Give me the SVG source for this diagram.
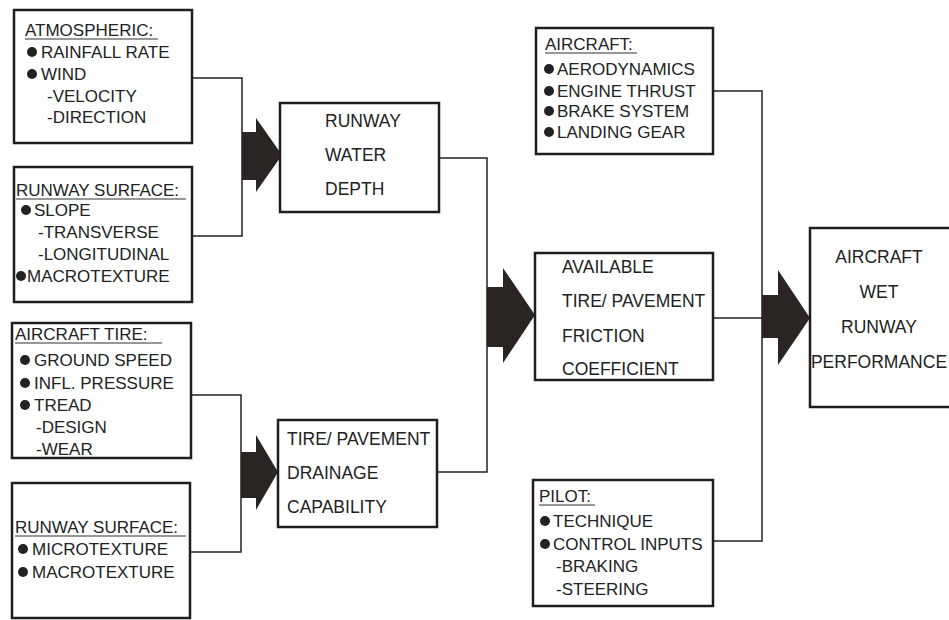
<svg xmlns="http://www.w3.org/2000/svg" width="949" height="620" viewBox="0 0 949 620">
<style>
.box{fill:#fff;stroke:#1e1e1e;stroke-width:2.5}
.t{font-family:"Liberation Sans",Arial,sans-serif;font-size:17px;fill:#222}
.c{font-family:"Liberation Sans",Arial,sans-serif;font-size:17.5px;fill:#222}
.u{stroke:#333;stroke-width:1.2}
.b{fill:#222}
.ln{fill:none;stroke:#222;stroke-width:1.5}
.ar{fill:#2a2422}
</style>
<rect width="949" height="620" fill="#fff"/>
<g id="connectors">
<polyline class="ln" points="192,78 242,78 242,236 192,236"/>
<polyline class="ln" points="191,395 241,395 241,552 190,552"/>
<polyline class="ln" points="439,158 487,158 487,472 437,472"/>
<polyline class="ln" points="713,91 762,91 762,541 713,541"/>
<line class="ln" x1="713" y1="318" x2="762" y2="318"/>
<polygon class="ar" points="242,132 256,132 256,118 282,155 256,192 256,180 242,180"/>
<polygon class="ar" points="241,452 256,452 256,435 278,472 256,510 256,498 241,498"/>
<polygon class="ar" points="487,287 503,287 503,268 535,315 503,363 503,347 487,347"/>
<polygon class="ar" points="762,295 778,295 778,270 810,318 778,365 778,338 762,338"/>
</g>
<g id="atmospheric">
<rect class="box" x="14" y="10" width="178" height="133"/>
<text class="t" x="25" y="36">ATMOSPHERIC:</text>
<line class="u" x1="25" y1="39" x2="158" y2="39"/>
<circle class="b" cx="32" cy="52" r="5"/><text class="t" x="41" y="58">RAINFALL RATE</text>
<circle class="b" cx="32" cy="74" r="5"/><text class="t" x="41" y="80">WIND</text>
<text class="t" x="47" y="102">-VELOCITY</text>
<text class="t" x="47" y="123">-DIRECTION</text>
</g>
<g id="runway-surface-1">
<rect class="box" x="14" y="167" width="178" height="135"/>
<text class="t" x="16" y="196">RUNWAY SURFACE:</text>
<line class="u" x1="16" y1="199" x2="186" y2="199"/>
<circle class="b" cx="26" cy="210" r="5"/><text class="t" x="34" y="216">SLOPE</text>
<text class="t" x="38" y="238">-TRANSVERSE</text>
<text class="t" x="38" y="260">-LONGITUDINAL</text>
<circle class="b" cx="21" cy="276" r="5"/><text class="t" x="27" y="282">MACROTEXTURE</text>
</g>
<g id="aircraft-tire">
<rect class="box" x="12" y="323" width="179" height="135"/>
<text class="t" x="15" y="340">AIRCRAFT TIRE:</text>
<line class="u" x1="15" y1="343" x2="162" y2="343"/>
<circle class="b" cx="25" cy="360" r="5"/><text class="t" x="34" y="366">GROUND SPEED</text>
<circle class="b" cx="25" cy="383" r="5"/><text class="t" x="34" y="389">INFL. PRESSURE</text>
<circle class="b" cx="25" cy="405" r="5"/><text class="t" x="34" y="411">TREAD</text>
<text class="t" x="36" y="433">-DESIGN</text>
<text class="t" x="36" y="455">-WEAR</text>
</g>
<g id="runway-surface-2">
<rect class="box" x="12" y="483" width="178" height="135"/>
<text class="t" x="15" y="533">RUNWAY SURFACE:</text>
<line class="u" x1="15" y1="536" x2="186" y2="536"/>
<circle class="b" cx="23" cy="549" r="5"/><text class="t" x="32" y="555">MICROTEXTURE</text>
<circle class="b" cx="23" cy="572" r="5"/><text class="t" x="32" y="578">MACROTEXTURE</text>
</g>
<g id="runway-water-depth">
<rect class="box" x="280" y="103" width="159" height="109"/>
<text class="c" x="325" y="127">RUNWAY</text>
<text class="c" x="325" y="161">WATER</text>
<text class="c" x="325" y="195">DEPTH</text>
</g>
<g id="drainage-capability">
<rect class="box" x="278" y="420" width="159" height="107"/>
<text class="c" x="287" y="445">TIRE/ PAVEMENT</text>
<text class="c" x="287" y="479">DRAINAGE</text>
<text class="c" x="287" y="513">CAPABILITY</text>
</g>
<g id="aircraft">
<rect class="box" x="536" y="28" width="177" height="126"/>
<text class="t" x="545" y="50">AIRCRAFT:</text>
<line class="u" x1="545" y1="53" x2="637" y2="53"/>
<circle class="b" cx="549" cy="69" r="5"/><text class="t" x="557" y="75">AERODYNAMICS</text>
<circle class="b" cx="549" cy="91" r="5"/><text class="t" x="557" y="97">ENGINE THRUST</text>
<circle class="b" cx="549" cy="111" r="5"/><text class="t" x="557" y="117">BRAKE SYSTEM</text>
<circle class="b" cx="549" cy="132" r="5"/><text class="t" x="557" y="138">LANDING GEAR</text>
</g>
<g id="friction-coefficient">
<rect class="box" x="535" y="253" width="178" height="127"/>
<text class="c" x="562" y="273">AVAILABLE</text>
<text class="c" x="562" y="307">TIRE/ PAVEMENT</text>
<text class="c" x="562" y="342">FRICTION</text>
<text class="c" x="562" y="375">COEFFICIENT</text>
</g>
<g id="pilot">
<rect class="box" x="533" y="480" width="180" height="126"/>
<text class="t" x="539" y="502">PILOT:</text>
<line class="u" x1="539" y1="505" x2="595" y2="505"/>
<circle class="b" cx="545" cy="521" r="5"/><text class="t" x="553" y="527">TECHNIQUE</text>
<circle class="b" cx="545" cy="544" r="5"/><text class="t" x="553" y="550">CONTROL INPUTS</text>
<text class="t" x="556" y="572">-BRAKING</text>
<text class="t" x="556" y="595">-STEERING</text>
</g>
<g id="wet-runway-performance">
<rect class="box" x="810" y="228" width="160" height="179"/>
<text class="c" x="879" y="263" text-anchor="middle">AIRCRAFT</text>
<text class="c" x="879" y="298" text-anchor="middle">WET</text>
<text class="c" x="879" y="333" text-anchor="middle">RUNWAY</text>
<text class="c" x="879" y="368" text-anchor="middle">PERFORMANCE</text>
</g>
</svg>
